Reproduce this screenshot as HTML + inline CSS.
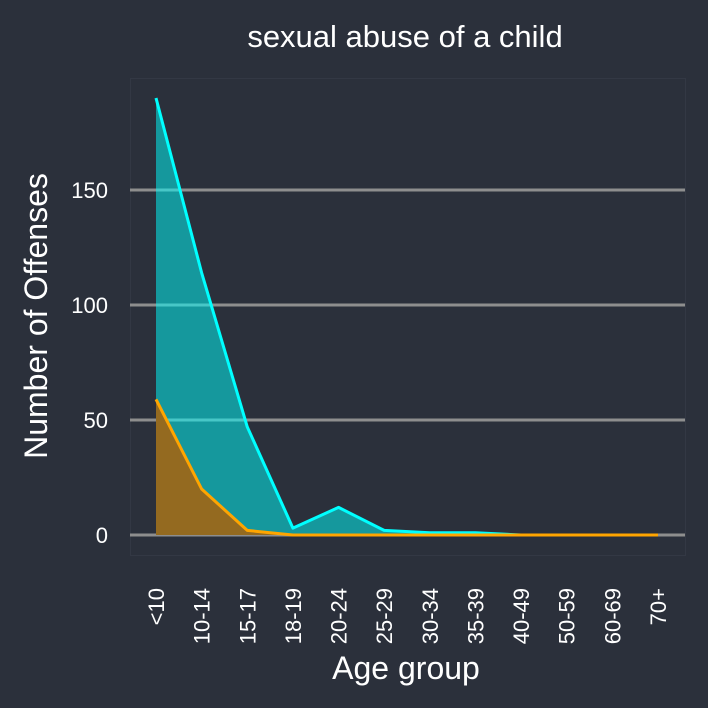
<!DOCTYPE html>
<html><head><meta charset="utf-8"><style>
html,body{margin:0;padding:0;background:#2b303b;}
svg{display:block;font-family:"Liberation Sans",sans-serif;}
</style></head><body>
<svg width="708" height="708" xmlns="http://www.w3.org/2000/svg">
<rect width="708" height="708" fill="#2b303b"/>
<rect x="130.5" y="78.5" width="555" height="477" fill="none" stroke="#333844"/>
<text x="405" y="47" fill="#fff" font-size="31" text-anchor="middle">sexual abuse of a child</text>
<g id="grid"></g>
<g id="yticks"></g>
<g id="areas"></g>
<g id="xticks"></g>
<text x="0" y="0" transform="translate(47,316) rotate(-90)" fill="#fff" font-size="32" text-anchor="middle">Number of Offenses</text>
<text x="406" y="679" fill="#fff" font-size="32" text-anchor="middle">Age group</text>
</svg>
<script>
const categories=["<10","10-14","15-17","18-19","20-24","25-29","30-34","35-39","40-49","50-59","60-69","70+"];
const victims=[190,114,47,3,12,2,1,1,0,0,0,0];
const offenders=[59,20,2,0,0,0,0,0,0,0,0,0];
const yTicks=[0,50,100,150];
const NS="http://www.w3.org/2000/svg";
function x(i){return 156+i*(658-156)/(categories.length-1);}
function y(v){return 535-v*2.3;}
function mk(tag,attrs,parent){const e=document.createElementNS(NS,tag);for(const k in attrs)e.setAttribute(k,attrs[k]);parent.appendChild(e);return e;}
const grid=document.getElementById('grid'),yt=document.getElementById('yticks'),ar=document.getElementById('areas'),xt=document.getElementById('xticks');
yTicks.forEach(t=>{
 const l=mk('line',{x1:130,x2:685,y1:y(t),y2:y(t),stroke:'#8e8e8e','stroke-width':3},grid);
 
 
 const tx=mk('text',{x:108,y:y(t)+8,fill:'#fff','font-size':22,'text-anchor':'end'},yt);
 tx.textContent=t;
 
 
});
function series(vals,fill,stroke,name){
 let pts=vals.map((v,i)=>x(i)+','+y(v)).join(' ');
 const a=mk('polygon',{points:x(0)+','+y(0)+' '+pts+' '+x(vals.length-1)+','+y(0),fill:fill},ar);
 
 
 const l=mk('polyline',{points:pts,fill:'none',stroke:stroke,'stroke-width':3,'stroke-linejoin':'round'},ar);
 
 
}
series(victims,'rgba(0,255,255,0.5)','#00ffff','victims');
series(offenders,'#946a20','#ffa500','offenders');
categories.forEach((c,i)=>{
 const t=mk('text',{transform:'translate('+(x(i)+8)+',588) rotate(-90)',fill:'#fff','font-size':22,'text-anchor':'end'},xt);
 t.textContent=c;
 
 
});
</script>
</body></html>
